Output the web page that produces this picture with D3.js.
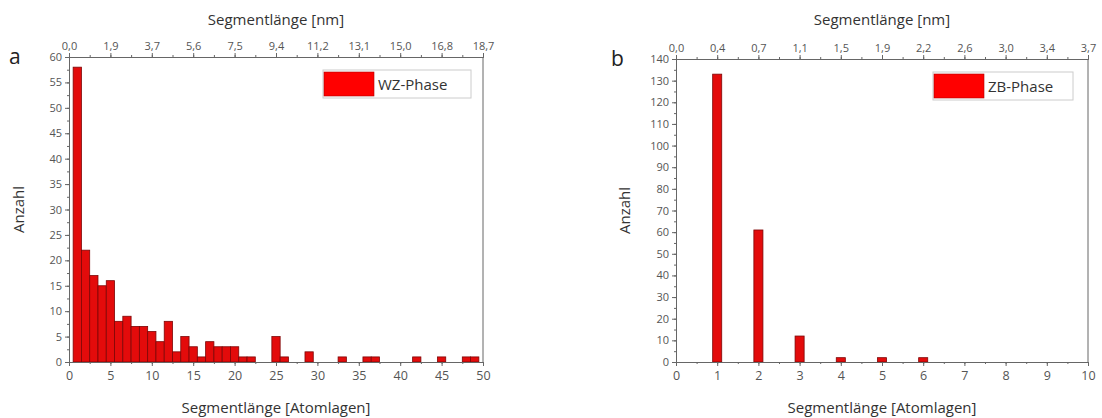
<!DOCTYPE html>
<html>
<head>
<meta charset="utf-8">
<script src="https://cdn.jsdelivr.net/npm/d3@7"></script>
<style>
  body { margin: 0; background: #fff; }
  svg text { font-family: "Open Sans", sans-serif; }
  .axis path, .axis line { stroke: #666; }
  .axis text { fill: #555; font-size: 11px; }
</style>
</head>
<body>
<div class="chart"></div>
<script>
// histogram of segment lengths, WZ and ZB phase
var wzLayers = [1,2,3,4,5,6,7,8,9,10,11,12,13,14,15,16,17,18,19,20,21,22,23,24,25,26,27,28,29,30,31,32,33,34,35,36,37,38,39,40,41,42,43,44,45,46,47,48,49];
var wzCounts = [58,22,17,15,16,8,9,7,7,6,4,8,2,5,3,1,4,3,3,3,1,1,0,0,5,1,0,0,2,0,0,0,1,0,0,1,1,0,0,0,0,1,0,0,1,0,0,1,1];
var wzNmTicks = ["0,0","1,9","3,7","5,6","7,5","9,4","11,2","13,1","15,0","16,8","18,7"];

var zbLayers = [1,2,3,4,5,6];
var zbCounts = [133,61,12,2,2,2];
var zbNmTicks = ["0,0","0,4","0,7","1,1","1,5","1,9","2,2","2,6","3,0","3,4","3,7"];

var svg = d3.select(".chart").append("svg")
    .attr("width", 1102)
    .attr("height", 418);

function panel(opts) {
    var g = svg.append("g");
    var x = d3.scaleLinear().domain([0, opts.xMax]).range([opts.left, opts.right]);
    var y = d3.scaleLinear().domain([0, opts.yMax]).range([opts.bottom, opts.top]);

    var data = opts.layers.map(function (d, i) {
        return { layer: d, count: opts.counts[i] };
    }).filter(function (d) { return d.count > 0; });

    // bars
    g.selectAll(".bar")
        .data(data)
        .enter().append("rect")
        .attr("class", "bar")
        .attr("x", function (d) { return x(d.layer - opts.barW / 2); })
        .attr("width", function (d) { return x(d.layer + opts.barW / 2) - x(d.layer - opts.barW / 2); })
        .attr("y", function (d) { return y(d.count); })
        .attr("height", function (d) { return y(0) - y(d.count); })
        .style("fill", "#e30b0b")
        .style("stroke", "#7d0606")
        .style("stroke-width", 0.8);

    // minor ticks
    g.append("g").attr("class", "axis")
        .attr("transform", "translate(0," + opts.bottom + ")")
        .call(d3.axisBottom(x).tickValues(d3.range(0, opts.xMax + 0.001, opts.xMinor)).tickSize(2).tickFormat(""));
    g.append("g").attr("class", "axis")
        .attr("transform", "translate(0," + opts.top + ")")
        .call(d3.axisTop(x).tickValues(d3.range(0, opts.xMax + 0.001, opts.xMinor)).tickSize(2).tickFormat(""));
    g.append("g").attr("class", "axis")
        .attr("transform", "translate(" + opts.left + ",0)")
        .call(d3.axisLeft(y).tickValues(d3.range(0, opts.yMax + 0.001, opts.yMinor)).tickSize(2).tickFormat(""));

    // major ticks
    var xTicks = d3.range(0, opts.xMax + 0.001, opts.xMajor);
    g.append("g").attr("class", "axis")
        .attr("transform", "translate(0," + opts.bottom + ")")
        .call(d3.axisBottom(x).tickValues(xTicks).tickSize(4).tickPadding(5))
        .selectAll("text").style("font-size", "12.5px");
    g.append("g").attr("class", "axis")
        .attr("transform", "translate(0," + opts.top + ")")
        .call(d3.axisTop(x).tickValues(xTicks).tickSize(4).tickPadding(3)
            .tickFormat(function (d, i) { return opts.nmTicks[i]; }));
    g.append("g").attr("class", "axis")
        .attr("transform", "translate(" + opts.left + ",0)")
        .call(d3.axisLeft(y).tickValues(d3.range(0, opts.yMax + 0.001, opts.yMajor)).tickSize(4).tickPadding(3));

    // right frame line
    g.append("line")
        .attr("x1", opts.right).attr("x2", opts.right)
        .attr("y1", opts.top).attr("y2", opts.bottom)
        .style("stroke", "#666");

    var cx = (opts.left + opts.right) / 2;
    g.append("text")
        .attr("x", cx).attr("y", 25)
        .attr("text-anchor", "middle")
        .style("font-size", "15px").style("fill", "#333")
        .text("Segmentlänge [nm]");
    g.append("text")
        .attr("x", cx).attr("y", 413)
        .attr("text-anchor", "middle")
        .style("font-size", "15px").style("fill", "#333")
        .text("Segmentlänge [Atomlagen]");
    g.append("text")
        .attr("transform", "translate(" + opts.yTitleX + "," + (opts.top + opts.bottom) / 2 + ") rotate(-90)")
        .attr("text-anchor", "middle")
        .style("font-size", "15px").style("fill", "#333")
        .text("Anzahl");
    g.append("text")
        .attr("x", opts.letterX).attr("y", opts.top + 7)
        .style("font-size", "21px").style("fill", "#222")
        .text(opts.letter);

    // legend
    var lg = g.append("g").attr("transform", "translate(" + opts.legX + "," + (opts.top + 13) + ")");
    lg.append("rect")
        .attr("width", opts.legW).attr("height", 28)
        .style("fill", "#fff").style("stroke", "#ccc");
    lg.append("rect")
        .attr("x", 1).attr("y", 2).attr("width", 50).attr("height", 24)
        .style("fill", "#ff0000").style("stroke", "#b00000").style("stroke-width", 0.6);
    lg.append("text")
        .attr("x", 55).attr("y", 20)
        .style("font-size", "15px").style("fill", "#333")
        .text(opts.label);
}

panel({
    left: 69, right: 483, top: 57, bottom: 362,
    xMax: 50, yMax: 60, xMajor: 5, xMinor: 2.5, yMajor: 5, yMinor: 2.5,
    layers: wzLayers, counts: wzCounts, nmTicks: wzNmTicks, barW: 1,
    yTitleX: 24, letter: "a", letterX: 9, legX: 323, legW: 148, label: "WZ-Phase"
});

panel({
    left: 676, right: 1088, top: 59, bottom: 362,
    xMax: 10, yMax: 140, xMajor: 1, xMinor: 0.5, yMajor: 10, yMinor: 5,
    layers: zbLayers, counts: zbCounts, nmTicks: zbNmTicks, barW: 0.22,
    yTitleX: 630, letter: "b", letterX: 611, legX: 933, legW: 140, label: "ZB-Phase"
});
</script>
</body>
</html>
